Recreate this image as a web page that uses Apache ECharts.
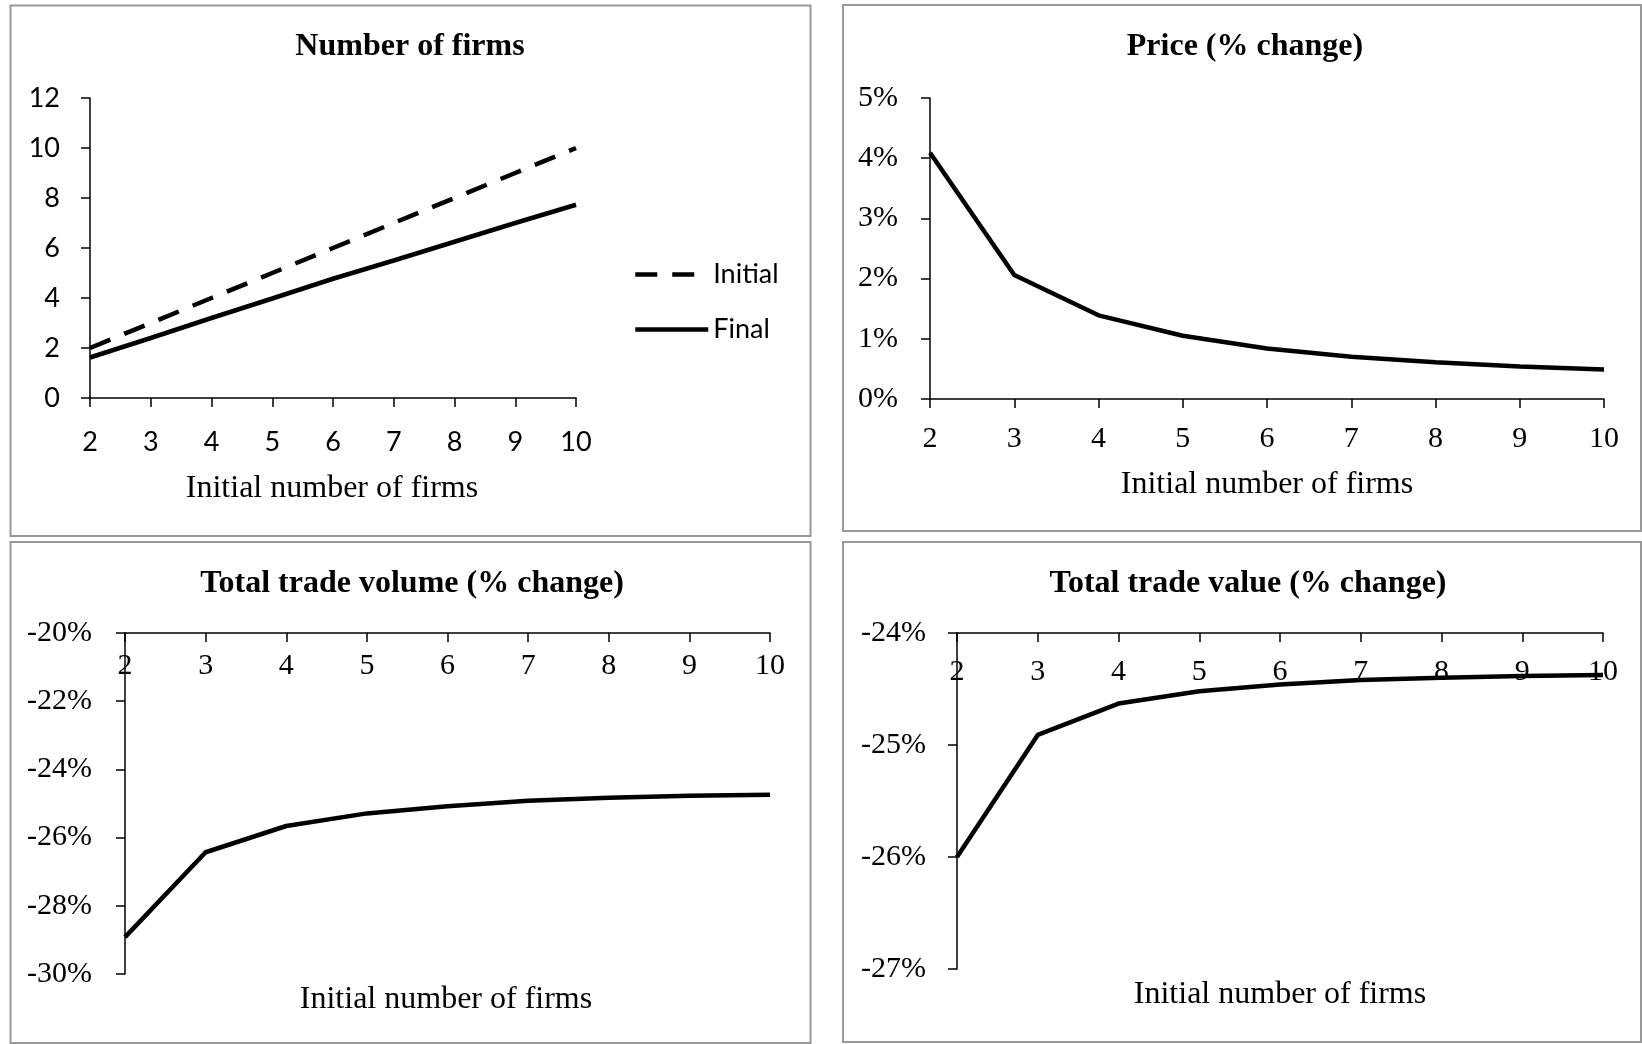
<!DOCTYPE html>
<html>
<head>
    <meta charset="utf-8">
    <title>Firms, price and trade</title>
    <script src="https://cdn.jsdelivr.net/npm/echarts@6/dist/echarts.min.js"></script>
    <style>
        html, body { margin: 0; padding: 0; background: #fff; }
    </style>
</head>
<body>
<div id="main" style="width: 1642px;height:1044px;"></div>
<script type="text/javascript">
    var myChart = echarts.init(document.getElementById('main'));

    // x axis categories, shared by the four panels
    var firms = ['2', '3', '4', '5', '6', '7', '8', '9', '10'];

    // number of firms
    var initialFirms = [2, 3, 4, 5, 6, 7, 8, 9, 10];
    var finalFirms = [1.62, 2.4, 3.2, 3.98, 4.77, 5.5, 6.25, 7.0, 7.73];

    // % changes
    var priceChange = [4.09, 2.06, 1.39, 1.05, 0.84, 0.70, 0.61, 0.54, 0.49];
    var volumeChange = [-28.92, -26.43, -25.66, -25.29, -25.08, -24.92, -24.83, -24.77, -24.74];
    var valueChange = [-26.0, -24.91, -24.63, -24.52, -24.46, -24.42, -24.40, -24.385, -24.375];

    var titles = ['Number of firms', 'Price (% change)', 'Total trade volume (% change)', 'Total trade value (% change)'];
    var xName = 'Initial number of firms';

    var serif = 'Liberation Serif';
    var sans = 'Lato';

    function xAxisOf(grid, top, font, size, margin) {
        return {
            type: 'category',
            gridIndex: grid,
            data: firms,
            boundaryGap: false,
            position: top ? 'top' : 'bottom',
            axisLine: { onZero: false, lineStyle: { color: '#000', width: 1.5 } },
            axisTick: { show: true, inside: top, length: 9, alignWithLabel: true,
                lineStyle: { color: '#000', width: 1.5 } },
            axisLabel: { inside: top, margin: margin, interval: 0, color: '#000',
                fontFamily: font, fontSize: size },
            splitLine: { show: false }
        };
    }

    function yAxisOf(grid, min, max, step, fmt, font, size, margin) {
        return {
            type: 'value',
            gridIndex: grid,
            min: min,
            max: max,
            interval: step,
            axisLine: { show: true, onZero: false, lineStyle: { color: '#000', width: 1.5 } },
            axisTick: { show: true, length: 9, lineStyle: { color: '#000', width: 1.5 } },
            axisLabel: { margin: margin, color: '#000', fontFamily: font, fontSize: size, formatter: fmt },
            splitLine: { show: false }
        };
    }

    function lineOf(name, grid, data, dash) {
        return {
            name: name,
            type: 'line',
            xAxisIndex: grid,
            yAxisIndex: grid,
            data: data,
            symbol: 'none',
            lineStyle: { color: '#000', width: 4.5, type: dash || 'solid' },
            itemStyle: { color: '#000' },
            silent: true
        };
    }

    function txt(s, x, y, bold) {
        return {
            type: 'text',
            x: x,
            y: y,
            silent: true,
            style: {
                text: s,
                fill: '#000',
                font: (bold ? 'bold ' : '') + '32px "' + serif + '"',
                align: 'center',
                verticalAlign: 'middle'
            }
        };
    }

    function box(x, y, w, h) {
        return {
            type: 'rect',
            silent: true,
            shape: { x: x, y: y, width: w, height: h },
            style: { fill: 'none', stroke: '#999', lineWidth: 2 }
        };
    }

    option = {
        backgroundColor: '#fff',
        animation: false,
        grid: [
            { left: 90, top: 98, width: 486, height: 300 },
            { left: 930, top: 98, width: 674, height: 301 },
            { left: 125, top: 633, width: 645, height: 341 },
            { left: 957, top: 633, width: 646, height: 336 }
        ],
        xAxis: [
            xAxisOf(0, false, sans, 27, 31),
            xAxisOf(1, false, serif, 30, 25),
            xAxisOf(2, true, serif, 30, 18),
            xAxisOf(3, true, serif, 30, 24)
        ],
        yAxis: [
            yAxisOf(0, 0, 12, 2, '{value}', sans, 27, 30),
            yAxisOf(1, 0, 5, 1, '{value}%', serif, 30, 32),
            yAxisOf(2, -30, -20, 2, '{value}%', serif, 30, 33),
            yAxisOf(3, -27, -24, 1, '{value}%', serif, 30, 31)
        ],
        legend: {
            data: ['Initial', 'Final'],
            orient: 'vertical',
            left: 633,
            top: 261,
            padding: 0,
            itemWidth: 73,
            itemHeight: 30,
            itemGap: 28,
            selectedMode: false,
            textStyle: { color: '#000', fontFamily: sans, fontSize: 27 },
            lineStyle: { width: 4.5 },
            itemStyle: { opacity: 0 }
        },
        graphic: [
            box(10.5, 5.5, 800, 530.5),
            box(843, 5, 798, 526),
            box(10.5, 542, 800, 501),
            box(843, 542, 798, 500),
            txt(titles[0], 410, 47, true),
            txt(titles[1], 1245, 47, true),
            txt(titles[2], 412, 584, true),
            txt(titles[3], 1248, 584, true),
            txt(xName, 332, 489, false),
            txt(xName, 1267, 485, false),
            txt(xName, 446, 1000, false),
            txt(xName, 1280, 995, false)
        ],
        series: [
            lineOf('Initial', 0, initialFirms, [22, 15]),
            lineOf('Final', 0, finalFirms),
            lineOf('Price', 1, priceChange),
            lineOf('Volume', 2, volumeChange),
            lineOf('Value', 3, valueChange)
        ]
    };

    myChart.setOption(option);
</script>
</body>
</html>
